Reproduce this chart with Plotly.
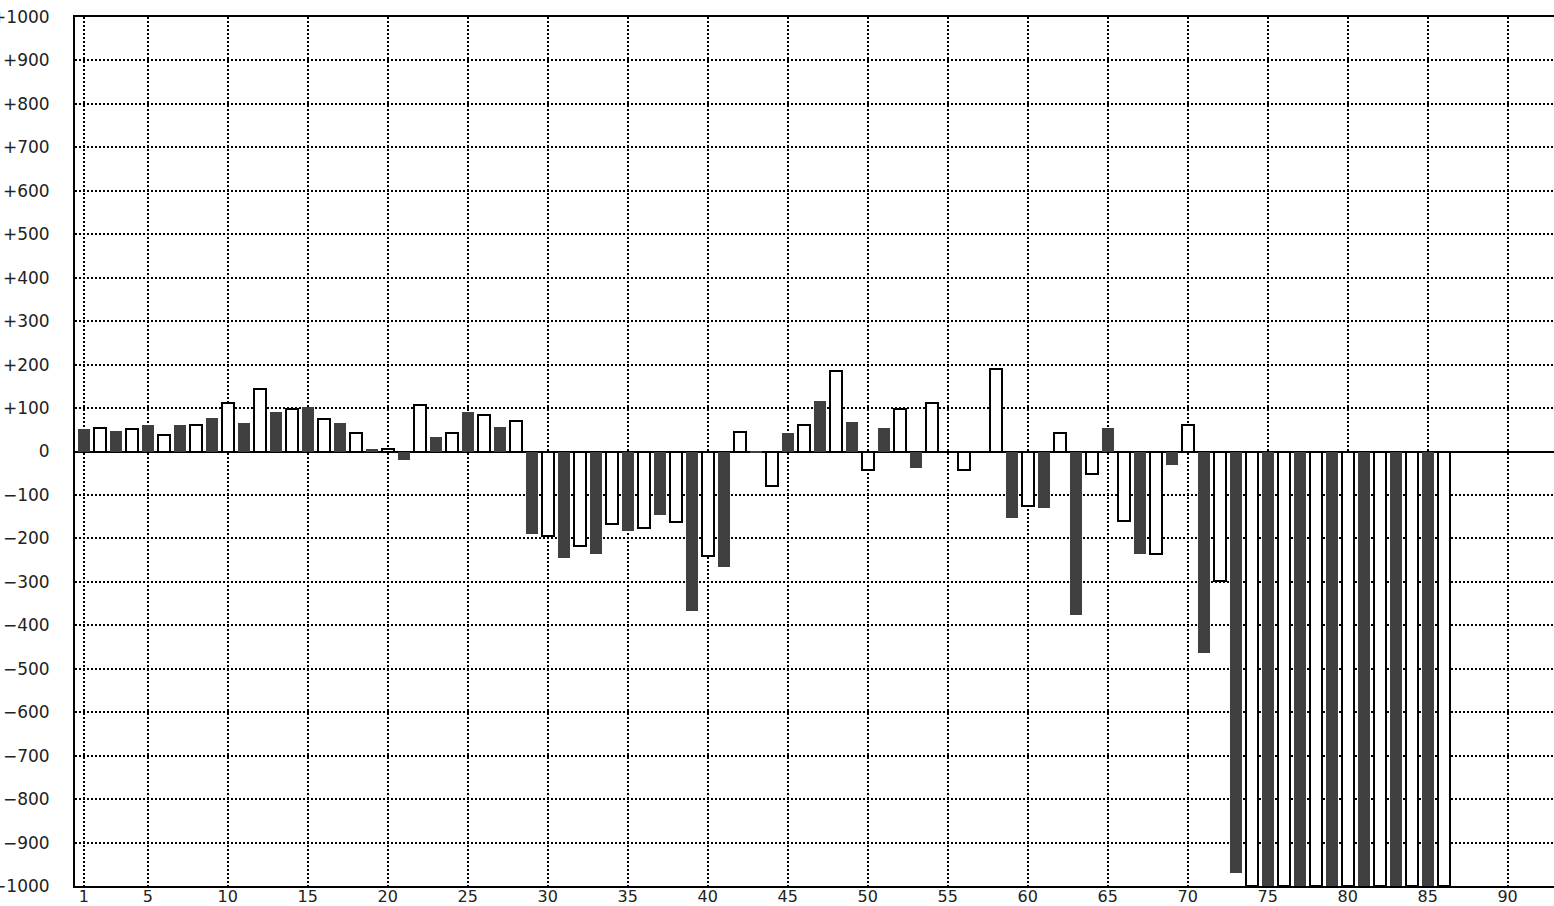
import plotly.graph_objects as go

# bar index 1..86 (bars 74-86 run off the bottom)
positions = list(range(1, 87))
values = [52, 55, 48, 52, 62, 37, 62, 61, 76, 112,
          66, 143, 90, 97, 103, 74, 66, 43, 6, 5,
          -20, 107, 34, 43, 90, 84, 57, 70, -191, -194,
          -246, -217, -237, -166, -182, -176, -145, -162, -367, -240,
          -265, 46, -3, -79, 43, 60, 117, 185, 67, -42,
          53, 97, -39, 111, 0, -42, 0, 190, -154, -125,
          -131, 42, -376, -51, 53, -161, -237, -236, -30, 60,
          -463, -297, -971] + [-1000] * 13

x_ticks = [1, 5, 10, 15, 20, 25, 30, 35, 40, 45, 50, 55, 60, 65, 70, 75, 80, 85, 90]
y_ticks = list(range(-1000, 1001, 100))
y_labels = [("+" + str(v)) if v > 0 else ("\u2212" + str(-v)) if v < 0 else "0" for v in y_ticks]

DARK = "#404040"
# odd positions are solid dark, even ones are hollow with a black outline
fill = [DARK if p % 2 else "white" for p in positions]
edge = [DARK if p % 2 else "black" for p in positions]
edge_w = [0 if p % 2 else 2 for p in positions]

fig = go.Figure(go.Bar(
    x=positions, y=values, width=0.75,
    marker=dict(color=fill, line=dict(color=edge, width=edge_w)),
    showlegend=False, hoverinfo="x+y",
))

font = dict(family="DejaVu Sans, Lato, sans-serif", size=17, color="#222")
xfont = dict(family="DejaVu Sans, Lato, sans-serif", size=16, color="#222")

fig.update_xaxes(
    range=[0.45, 92.9], tickvals=x_ticks, ticktext=[str(t) for t in x_ticks],
    showline=True, linecolor="black", linewidth=2, mirror=True,
    showgrid=True, gridcolor="black", gridwidth=2, griddash="2px,2px",
    ticks="", ticklabelstandoff=-5, tickfont=xfont, zeroline=False,
    automargin=False,
)
fig.update_yaxes(
    range=[-1000, 1000], tickvals=y_ticks, ticktext=y_labels,
    showline=True, linecolor="black", linewidth=2,
    showgrid=True, gridcolor="black", gridwidth=2, griddash="2px,2px",
    zeroline=True, zerolinecolor="black", zerolinewidth=2,
    ticks="", ticklabelstandoff=20, tickfont=font,
    automargin=False,
)
fig.update_layout(
    width=1554, height=906, autosize=False,
    margin=dict(l=75, r=0, t=17, b=20, pad=0),
    paper_bgcolor="white", plot_bgcolor="white",
    bargap=0, font=font,
)

fig.write_html("out.html", config={"displayModeBar": False},
               post_script="document.body.style.margin='0';")
